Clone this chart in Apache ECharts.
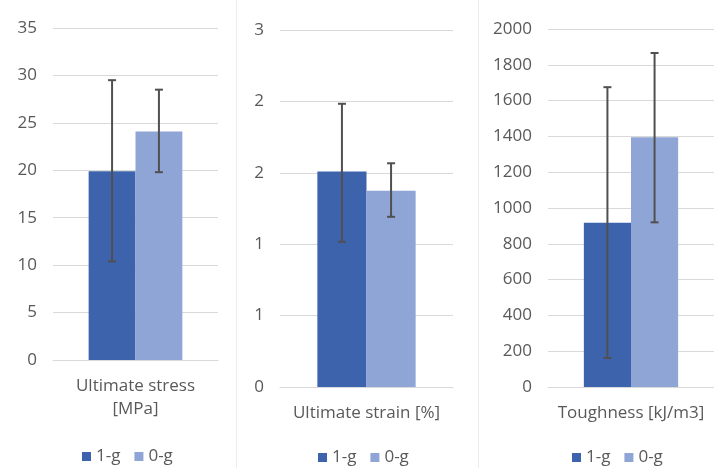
<!DOCTYPE html>
<html><head><meta charset="utf-8">
<script src="https://cdn.jsdelivr.net/npm/echarts@6/dist/echarts.min.js"></script>
<style>html,body{margin:0;padding:0;background:#fff}#c{width:714px;height:468px}</style>
</head><body><div id="c"></div>
<script>
const seriesNames = ['1-g', '0-g'];
const panelCategories = [['Ultimate stress\n[MPa]'], ['Ultimate strain [%]'], ['Toughness [kJ/m3]']];
// mean values per panel: [1-g, 0-g]
const meanValues = [[19.9, 24.1], [1.81, 1.65], [918, 1395]];
// error bar [low, high] per panel: [1-g, 0-g]
const errLow = [[10.4, 19.8], [1.22, 1.43], [162, 920]];
const errHigh = [[29.5, 28.5], [2.38, 1.88], [1675, 1866]];
const yMax = [35, 3, 2000];
const yInterval = [5, 0.6, 200];

const colors = ['#3d63ad', '#8fa5d5'];
const textColor = '#595959';
const gridColor = '#d9d9d9';
const FONT = 'Open Sans';
const BARW = 0.284;

const grids = [
  {left: 53, width: 165, top: 28, height: 332},
  {left: 280, width: 173, top: 30, height: 357},
  {left: 548, width: 176, top: 29, height: 358}
];
const legendPos = [{left: 77, top: 443}, {left: 313, top: 444}, {left: 567, top: 444}];

const option = {
  animation: false,
  backgroundColor: '#fff',
  textStyle: {fontFamily: FONT},
  grid: grids.map(g => Object.assign({containLabel: false}, g)),
  xAxis: panelCategories.map((cats, i) => ({
    type: 'category', gridIndex: i, data: cats,
    axisLine: {lineStyle: {color: gridColor}},
    axisTick: {show: false},
    axisLabel: {color: textColor, fontSize: 17, margin: 15, lineHeight: 23, fontFamily: FONT}
  })),
  yAxis: yMax.map((m, i) => ({
    type: 'value', gridIndex: i, min: 0, max: m, interval: yInterval[i],
    axisLine: {show: false}, axisTick: {show: false},
    splitLine: {lineStyle: {color: gridColor}},
    axisLabel: {color: textColor, fontSize: 17, margin: 16, fontFamily: FONT,
      formatter: v => String(Math.round(v))}
  })),
  legend: legendPos.map(p => ({
    data: seriesNames, left: p.left, top: p.top, itemWidth: 9, itemHeight: 9, itemGap: 14,
    icon: 'rect', selectedMode: false,
    textStyle: {color: textColor, fontSize: 17, fontFamily: FONT}
  })),
  graphic: [
    {type: 'line', shape: {x1: 236.5, y1: 0, x2: 236.5, y2: 468}, style: {stroke: '#ececec', lineWidth: 1}},
    {type: 'line', shape: {x1: 478.5, y1: 0, x2: 478.5, y2: 468}, style: {stroke: '#ececec', lineWidth: 1}}
  ],
  series: []
};

for (let p = 0; p < 3; p++) {
  seriesNames.forEach((name, s) => {
    option.series.push({
      name, type: 'bar', xAxisIndex: p, yAxisIndex: p,
      data: [meanValues[p][s]], barWidth: (BARW * 100) + '%', barGap: '0%',
      itemStyle: {color: colors[s]}
    });
  });
  option.series.push({
    type: 'custom', xAxisIndex: p, yAxisIndex: p, z: 10,
    data: seriesNames.map((n, s) => [0, errLow[p][s], errHigh[p][s], s]),
    renderItem: (params, api) => {
      const s = api.value(3);
      const catW = api.size([1, 0])[0];
      const off = (s === 0 ? -1 : 1) * catW * BARW / 2;
      const lo = api.coord([0, api.value(1)]);
      const hi = api.coord([0, api.value(2)]);
      const x = lo[0] + off;
      const cap = 4;
      const st = {stroke: '#505050', lineWidth: 2};
      return {type: 'group', children: [
        {type: 'line', shape: {x1: x, y1: lo[1], x2: x, y2: hi[1]}, style: st},
        {type: 'line', shape: {x1: x - cap, y1: lo[1], x2: x + cap, y2: lo[1]}, style: st},
        {type: 'line', shape: {x1: x - cap, y1: hi[1], x2: x + cap, y2: hi[1]}, style: st}
      ]};
    }
  });
}

echarts.init(document.getElementById('c'), null, {renderer: 'canvas'}).setOption(option);
</script></body></html>
